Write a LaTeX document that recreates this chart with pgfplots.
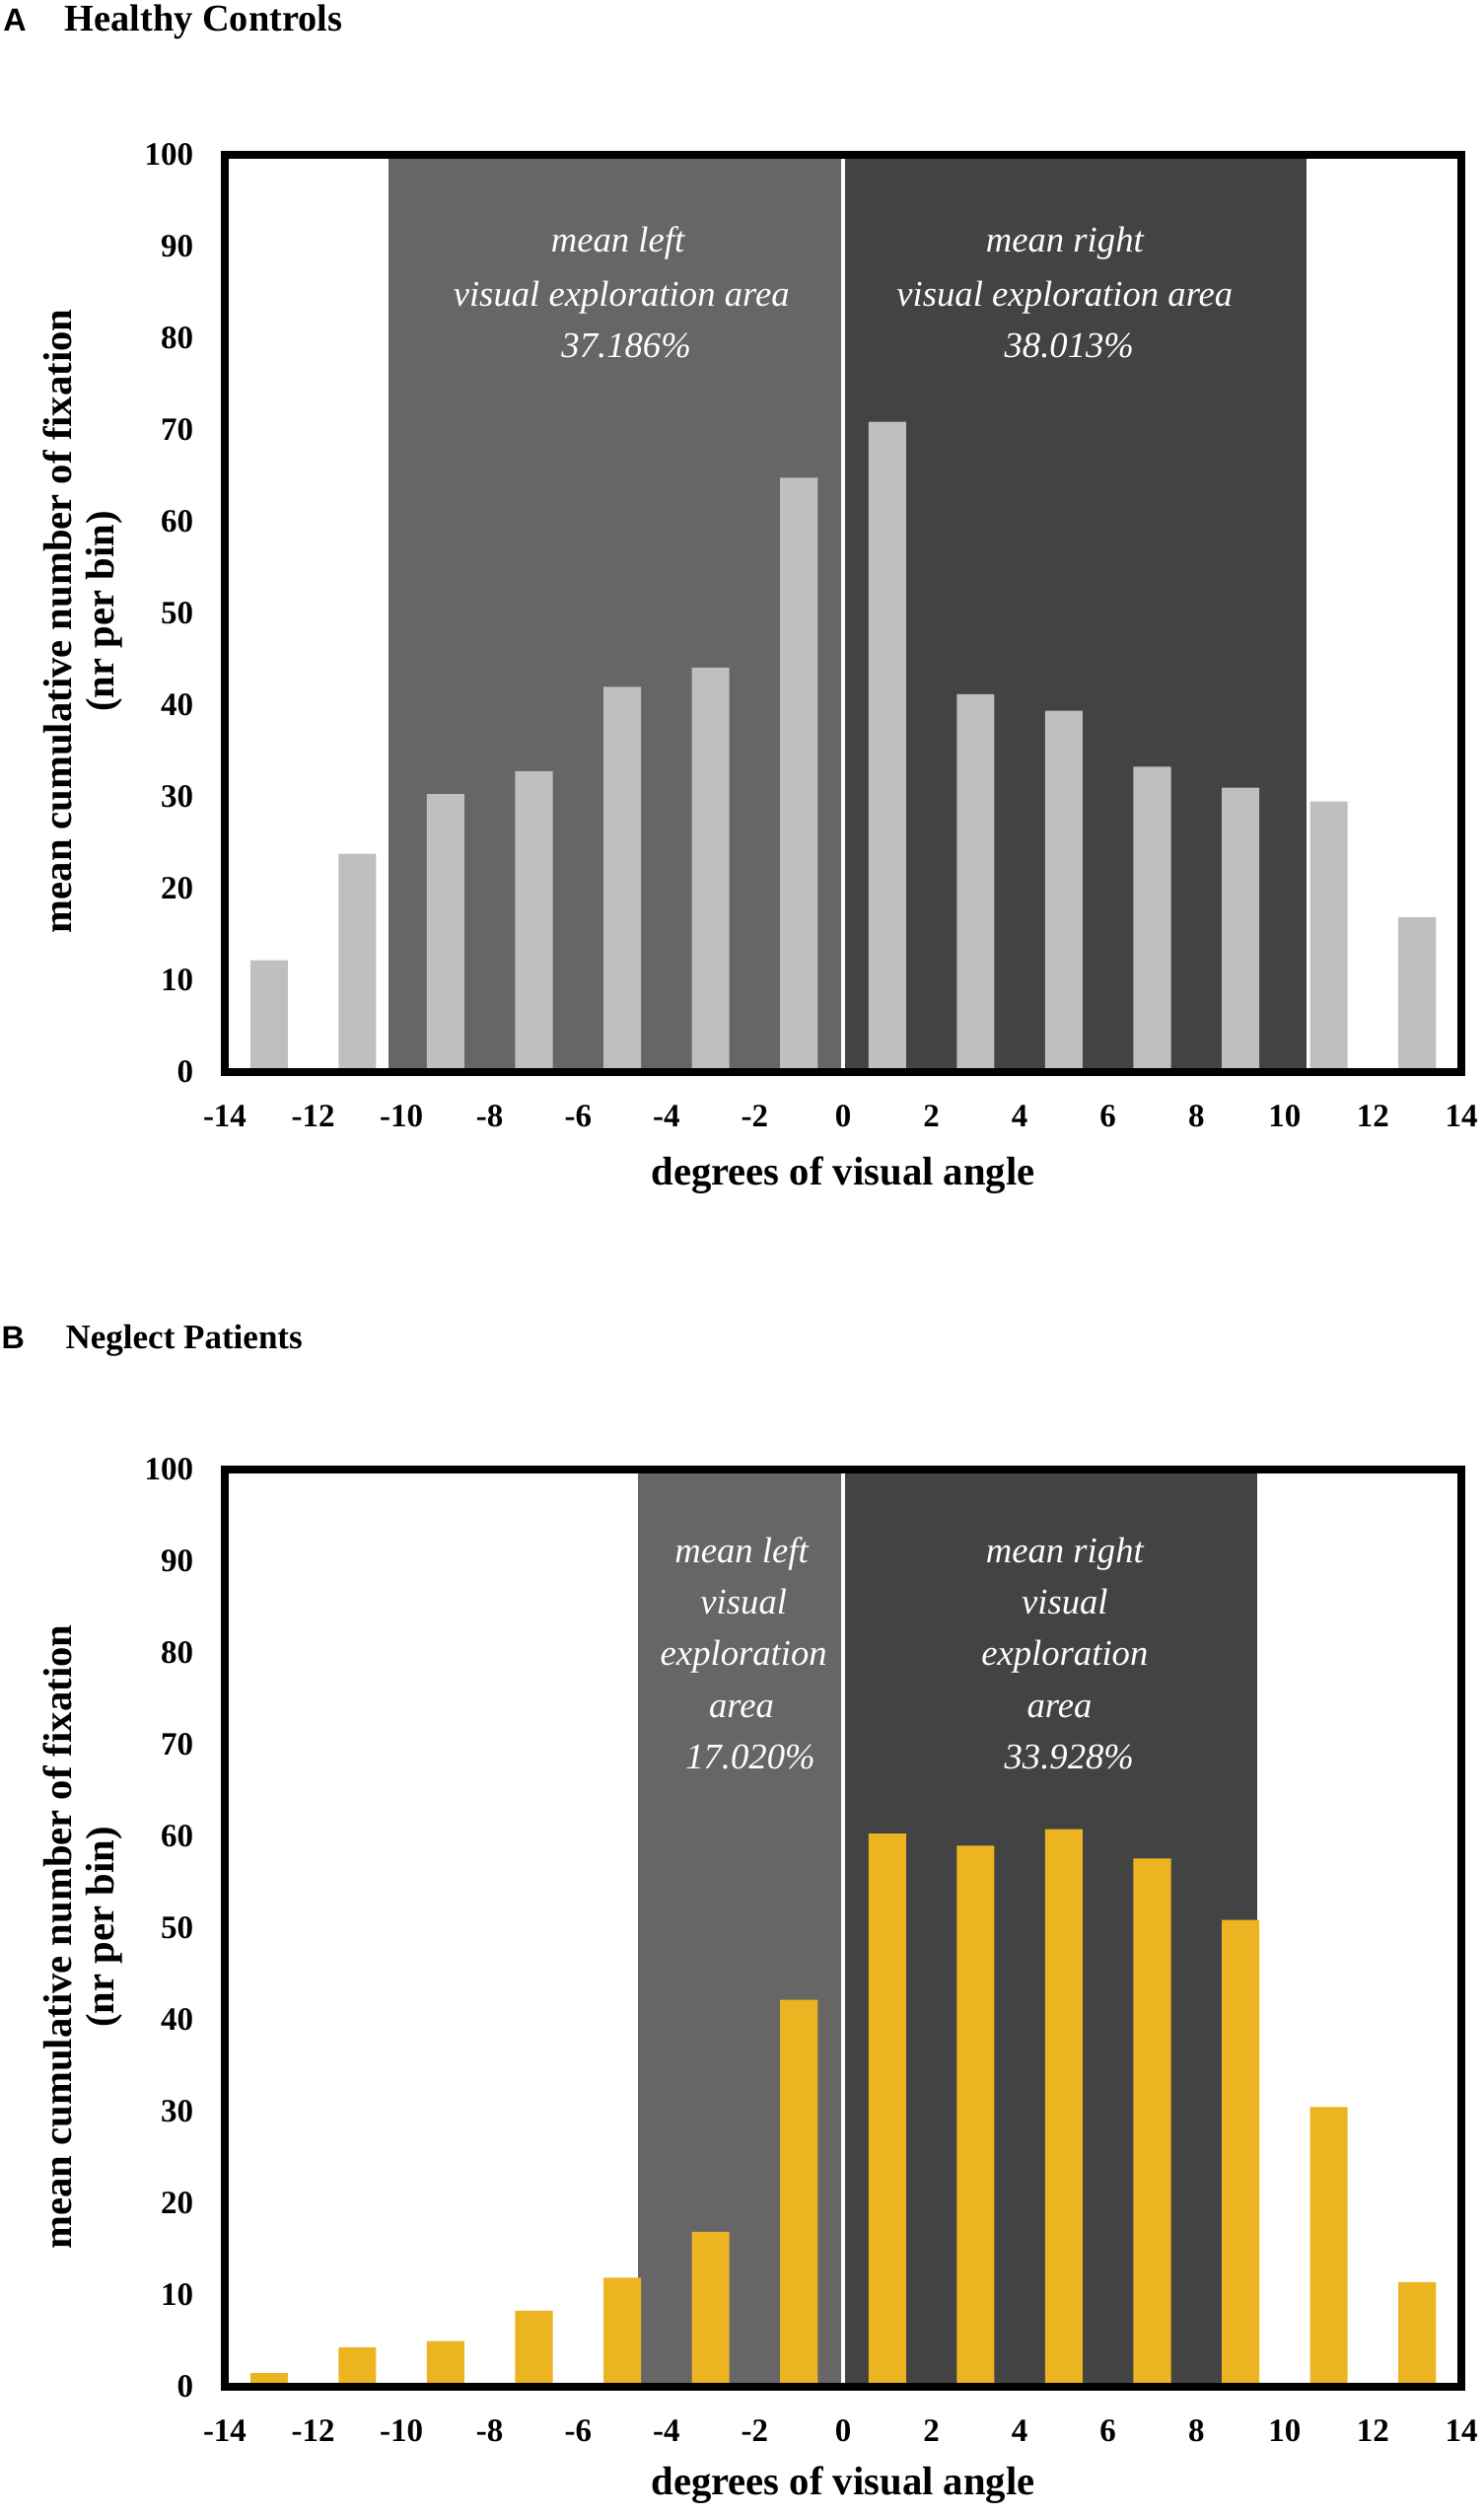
\documentclass[border=0pt]{standalone}
\usepackage{fontspec}
\setmainfont{Liberation Serif}
\newfontfamily\arialfont{Liberation Sans}
\usepackage{pgfplots}
\pgfplotsset{compat=1.18}
\definecolor{barA}{RGB}{191,191,191}
\definecolor{barB}{RGB}{237,180,34}
\definecolor{leftreg}{RGB}{102,102,102}
\definecolor{rightreg}{RGB}{67,67,67}
\tikzset{ann/.style={anchor=base, text=white, font=\itshape\fontsize{11}{13}\selectfont, inner sep=0pt}}
\pgfplotsset{
  panel/.style={
    anchor=south west,
    scale only axis, width=376.2pt, height=279pt,
    xmin=-14, xmax=14, ymin=0, ymax=100,
    xtick={-14,-12,...,14}, ytick={0,10,...,100},
    major tick length=0pt,
    axis line style={line width=2.4pt, black, line cap=rect},
    axis on top,
    ticklabel style={font=\bfseries\fontsize{9.9}{11}\selectfont},
    /pgf/number format/assume math mode=true,
    xticklabel shift=6.6pt, yticklabel shift=6pt,
  },
}
\begin{document}
\begin{tikzpicture}[x=1pt,y=1pt]
\useasboundingbox (0,0) rectangle (451.5,765);
% ---------------- Panel A ----------------
\node[anchor=base west, inner sep=0pt, font=\arialfont\bfseries\fontsize{9.7}{11}\selectfont] at (0.8,755.4) {A};
\node[anchor=base west, inner sep=0pt, font=\bfseries\fontsize{11.5}{13}\selectfont] at (19.5,755.4) {Healthy Controls};
\begin{axis}[panel, at={(68.4pt,438.9pt)}]
\addplot[fill=leftreg, draw=none] coordinates {(-10.3,100) (0,100)} \closedcycle;
\addplot[fill=rightreg, draw=none] coordinates {(0,100) (10.49,100)} \closedcycle;
\addplot[white, line width=1.3pt] coordinates {(0,0) (0,100)};
\addplot[ybar, bar width=0.85, fill=barA, draw=none] coordinates {
 (-13,12.2) (-11,23.8) (-9,30.3) (-7,32.8) (-5,42.0) (-3,44.1) (-1,64.8)
 (1,70.9) (3,41.2) (5,39.4) (7,33.3) (9,31.0) (11,29.5) (13,16.9)};
\node[ann] at (axis cs:-5.10,89.4) {mean left};
\node[ann] at (axis cs:-5.02,83.5) {visual exploration area};
\node[ann] at (axis cs:-4.91,77.9) {37.186\%};
\node[ann] at (axis cs:5.02,89.4) {mean right};
\node[ann] at (axis cs:5.02,83.5) {visual exploration area};
\node[ann] at (axis cs:5.12,77.9) {38.013\%};
\end{axis}
\node[rotate=90, font=\bfseries\fontsize{12.2}{14}\selectfont] at (17.6,576) {mean cumulative number of fixation};
\node[rotate=90, font=\bfseries\fontsize{12.2}{14}\selectfont] at (31.6,579) {(nr per bin)};
\node[font=\bfseries\fontsize{12.2}{14}\selectfont] at (256.5,407.5) {degrees of visual angle};
% ---------------- Panel B ----------------
\node[anchor=base west, inner sep=0pt, font=\arialfont\bfseries\fontsize{9.7}{11}\selectfont] at (0.3,354.6) {B};
\node[anchor=base west, inner sep=0pt, font=\bfseries\fontsize{10.5}{13}\selectfont] at (19.8,354.6) {Neglect Patients};
\begin{axis}[panel, at={(68.4pt,39pt)}]
\addplot[fill=leftreg, draw=none] coordinates {(-4.64,100) (0,100)} \closedcycle;
\addplot[fill=rightreg, draw=none] coordinates {(0,100) (9.37,100)} \closedcycle;
\addplot[white, line width=1.3pt] coordinates {(0,0) (0,100)};
\addplot[ybar, bar width=0.85, fill=barB, draw=none] coordinates {
 (-13,1.5) (-11,4.3) (-9,5.0) (-7,8.3) (-5,11.9) (-3,16.9) (-1,42.2)
 (1,60.3) (3,59.0) (5,60.8) (7,57.6) (9,50.9) (11,30.5) (13,11.4)};
\node[ann] at (axis cs:-2.30,89.85) {mean left};
\node[ann] at (axis cs:-2.25,84.25) {visual};
\node[ann] at (axis cs:-2.25,78.65) {exploration};
\node[ann] at (axis cs:-2.30,72.95) {area};
\node[ann] at (axis cs:-2.10,67.35) {17.020\%};
\node[ann] at (axis cs:5.02,89.85) {mean right};
\node[ann] at (axis cs:5.02,84.25) {visual};
\node[ann] at (axis cs:5.02,78.65) {exploration};
\node[ann] at (axis cs:4.90,72.95) {area};
\node[ann] at (axis cs:5.12,67.35) {33.928\%};
\end{axis}
\node[rotate=90, font=\bfseries\fontsize{12.2}{14}\selectfont] at (17.6,175.8) {mean cumulative number of fixation};
\node[rotate=90, font=\bfseries\fontsize{12.2}{14}\selectfont] at (31.6,178.8) {(nr per bin)};
\node[font=\bfseries\fontsize{12.2}{14}\selectfont] at (256.5,9) {degrees of visual angle};
\end{tikzpicture}
\end{document}
